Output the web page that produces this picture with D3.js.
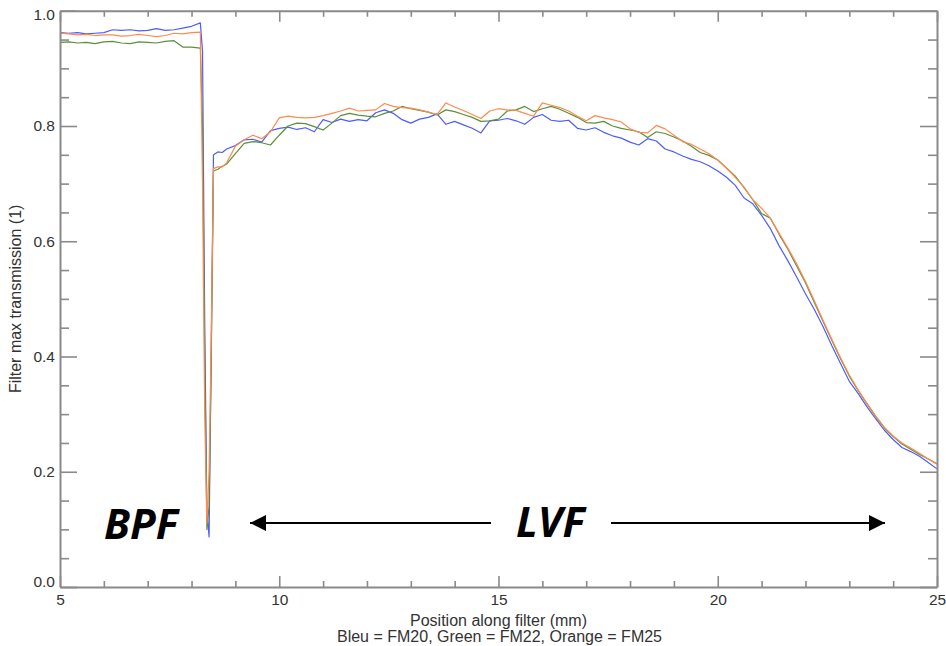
<!DOCTYPE html>
<html>
<head>
<meta charset="utf-8">
<script src="https://cdn.jsdelivr.net/npm/d3@7"></script>
<style>
  html, body { margin: 0; padding: 0; background: #fff; }
  svg { display: block; }
  .tick text { font-family: "Liberation Sans", Arial, sans-serif; }
</style>
</head>
<body>
<div id="chart"></div>
<script>
// positions along the filter (mm)
const positions = [
  5.0, 5.2, 5.4, 5.6, 5.8, 6.0, 6.2, 6.4, 6.6, 6.8, 7.0, 7.2, 7.4, 7.6, 7.8, 8.0, 8.2,
  8.25, 8.3, 8.35, 8.4, 8.45, 8.5, 8.6, 8.7, 8.8,
  9.0, 9.2, 9.4, 9.6, 9.8, 10.0, 10.2, 10.4, 10.6, 10.8,
  11.0, 11.2, 11.4, 11.6, 11.8, 12.0, 12.2, 12.4, 12.6, 12.8,
  13.0, 13.2, 13.4, 13.6, 13.8, 14.0, 14.2, 14.4, 14.6, 14.8,
  15.0, 15.2, 15.4, 15.6, 15.8, 16.0, 16.2, 16.4, 16.6, 16.8,
  17.0, 17.2, 17.4, 17.6, 17.8, 18.0, 18.2, 18.4, 18.6, 18.8,
  19.0, 19.2, 19.4, 19.6, 19.8, 20.0, 20.2, 20.4, 20.6, 20.8,
  21.0, 21.2, 21.4, 21.6, 21.8, 22.0, 22.2, 22.4, 22.6, 22.8,
  23.0, 23.2, 23.4, 23.6, 23.8, 24.0, 24.2, 24.4, 24.6, 24.8, 25.0
];

// Bleu = FM20
const fm20 = [
  0.962, 0.961, 0.962, 0.960, 0.961, 0.962, 0.967, 0.966, 0.967, 0.965, 0.966, 0.969, 0.966, 0.967, 0.970, 0.973, 0.979,
  0.930, 0.460, 0.130, 0.087, 0.420, 0.750, 0.755, 0.754, 0.760,
  0.766, 0.776, 0.777, 0.772, 0.792, 0.796, 0.798, 0.794, 0.797, 0.790,
  0.811, 0.806, 0.812, 0.808, 0.811, 0.809, 0.823, 0.828, 0.822, 0.811,
  0.805, 0.812, 0.815, 0.821, 0.803, 0.808, 0.802, 0.796, 0.788, 0.809,
  0.810, 0.813, 0.809, 0.803, 0.815, 0.820, 0.810, 0.808, 0.810, 0.796,
  0.793, 0.797, 0.789, 0.783, 0.779, 0.772, 0.767, 0.778, 0.774, 0.760,
  0.755, 0.748, 0.742, 0.738, 0.731, 0.722, 0.711, 0.697, 0.675, 0.665,
  0.645, 0.622, 0.592, 0.566, 0.538, 0.509, 0.482, 0.452, 0.419, 0.388,
  0.357, 0.336, 0.313, 0.292, 0.272, 0.256, 0.242, 0.235, 0.227, 0.216, 0.205
];

// Green = FM22
const fm22 = [
  0.945, 0.946, 0.944, 0.945, 0.943, 0.946, 0.947, 0.944, 0.943, 0.946, 0.945, 0.944, 0.947, 0.948, 0.937, 0.937, 0.935,
  0.800, 0.400, 0.100, 0.140, 0.400, 0.722, 0.725, 0.730, 0.734,
  0.752, 0.770, 0.773, 0.771, 0.767, 0.784, 0.800, 0.805, 0.804, 0.799,
  0.793, 0.805, 0.818, 0.822, 0.819, 0.817, 0.816, 0.822, 0.826, 0.834,
  0.830, 0.827, 0.824, 0.819, 0.828, 0.825, 0.820, 0.815, 0.808, 0.809,
  0.812, 0.826, 0.828, 0.834, 0.825, 0.830, 0.834, 0.829, 0.822, 0.815,
  0.806, 0.805, 0.808, 0.800, 0.796, 0.793, 0.790, 0.780, 0.790, 0.787,
  0.781, 0.774, 0.765, 0.754, 0.749, 0.741, 0.727, 0.713, 0.693, 0.672,
  0.648, 0.640, 0.612, 0.586, 0.557, 0.528, 0.494, 0.461, 0.428, 0.396,
  0.366, 0.341, 0.318, 0.296, 0.276, 0.261, 0.248, 0.239, 0.230, 0.222, 0.214
];

// Orange = FM25
const fm25 = [
  0.961, 0.960, 0.958, 0.959, 0.957, 0.958, 0.958, 0.956, 0.957, 0.959, 0.957, 0.955, 0.957, 0.961, 0.960, 0.962, 0.963,
  0.700, 0.300, 0.111, 0.200, 0.440, 0.726, 0.729, 0.729, 0.736,
  0.765, 0.776, 0.784, 0.778, 0.790, 0.814, 0.817, 0.815, 0.814, 0.815,
  0.818, 0.822, 0.826, 0.831, 0.826, 0.827, 0.828, 0.839, 0.834, 0.832,
  0.831, 0.828, 0.824, 0.820, 0.840, 0.833, 0.827, 0.820, 0.813, 0.826,
  0.830, 0.828, 0.827, 0.822, 0.817, 0.840, 0.836, 0.832, 0.826, 0.817,
  0.809, 0.818, 0.814, 0.811, 0.807, 0.795, 0.789, 0.788, 0.801, 0.795,
  0.784, 0.773, 0.768, 0.760, 0.752, 0.741, 0.727, 0.711, 0.694, 0.672,
  0.657, 0.640, 0.614, 0.588, 0.561, 0.530, 0.497, 0.463, 0.430, 0.398,
  0.368, 0.342, 0.319, 0.297, 0.277, 0.262, 0.250, 0.241, 0.232, 0.222, 0.213
];

const xMajor = [5, 10, 15, 20, 25];
const xMinor = [6, 7, 8, 9, 11, 12, 13, 14, 16, 17, 18, 19, 21, 22, 23, 24];
const yMajor = [0.0, 0.2, 0.4, 0.6, 0.8, 1.0];
const yMinor = [0.05, 0.1, 0.15, 0.25, 0.3, 0.35, 0.45, 0.5, 0.55, 0.65, 0.7, 0.75, 0.85, 0.9, 0.95];

const seriesList = [
  { name: "FM20", values: fm20, color: "#4d5cff" },
  { name: "FM22", values: fm22, color: "#5b8f3a" },
  { name: "FM25", values: fm25, color: "#ff8a4c" }
];

// =====================
// SVG SETUP
// =====================
const W = 946, H = 646;
const svg = d3.select("#chart").append("svg")
  .attr("width", W)
  .attr("height", H);

const x = d3.scaleLinear().domain([5, 25]).range([60, 937]);
const y = d3.scaleLinear().domain([0, 1]).range([587, 10.75]);

const axisColor = "#8a8a8a";
const textColor = "#333";
const labelFont = "Liberation Sans, Arial, sans-serif";

// =====================
// LINES
// =====================
const line = d3.line()
  .x((d, i) => x(positions[i]))
  .y(d => y(d));

svg.append("g")
  .selectAll("path")
  .data(seriesList)
  .join("path")
  .attr("d", d => line(d.values))
  .attr("fill", "none")
  .attr("stroke", d => d.color)
  .attr("stroke-width", 1.2)
  .attr("stroke-linejoin", "round");

// =====================
// AXES
// =====================
function styleAxis(g) {
  g.select(".domain").attr("stroke", axisColor).attr("stroke-width", 2);
  g.selectAll(".tick line").attr("stroke", axisColor).attr("stroke-width", 1.6);
  g.selectAll(".tick text")
    .attr("fill", textColor)
    .style("font-size", "15.5px");
}

// bottom
svg.append("g")
  .attr("transform", `translate(0,${y(0)})`)
  .call(d3.axisBottom(x).tickValues(xMajor).tickFormat(d3.format("d"))
    .tickSizeInner(-11).tickSizeOuter(0).tickPadding(7))
  .call(styleAxis);
svg.append("g")
  .attr("transform", `translate(0,${y(0)})`)
  .call(d3.axisBottom(x).tickValues(xMinor).tickFormat("").tickSizeInner(-6).tickSizeOuter(0))
  .call(styleAxis)
  .call(g => g.select(".domain").remove());

// top
svg.append("g")
  .attr("transform", `translate(0,${y(1)})`)
  .call(d3.axisTop(x).tickValues(xMajor).tickFormat("").tickSizeInner(-11).tickSizeOuter(0))
  .call(styleAxis);
svg.append("g")
  .attr("transform", `translate(0,${y(1)})`)
  .call(d3.axisTop(x).tickValues(xMinor).tickFormat("").tickSizeInner(-6).tickSizeOuter(0))
  .call(styleAxis)
  .call(g => g.select(".domain").remove());

// left
svg.append("g")
  .attr("transform", `translate(${x(5)},0)`)
  .call(d3.axisLeft(y).tickValues(yMajor).tickFormat(d3.format(".1f"))
    .tickSizeInner(-17).tickSizeOuter(0).tickPadding(5))
  .call(styleAxis)
  .call(g => g.selectAll(".tick text")
    .attr("dy", d => d === 0 ? "-0.05em" : d === 1 ? "0.55em" : "0.32em"));
svg.append("g")
  .attr("transform", `translate(${x(5)},0)`)
  .call(d3.axisLeft(y).tickValues(yMinor).tickFormat("").tickSizeInner(-9).tickSizeOuter(0))
  .call(styleAxis)
  .call(g => g.select(".domain").remove());

// right
svg.append("g")
  .attr("transform", `translate(${x(25)},0)`)
  .call(d3.axisRight(y).tickValues(yMajor).tickFormat("").tickSizeInner(-17).tickSizeOuter(0))
  .call(styleAxis);
svg.append("g")
  .attr("transform", `translate(${x(25)},0)`)
  .call(d3.axisRight(y).tickValues(yMinor).tickFormat("").tickSizeInner(-9).tickSizeOuter(0))
  .call(styleAxis)
  .call(g => g.select(".domain").remove());

// =====================
// AXIS TITLES
// =====================
svg.append("text")
  .attr("x", x(15))
  .attr("y", 626)
  .attr("text-anchor", "middle")
  .attr("fill", textColor)
  .style("font-family", labelFont)
  .style("font-size", "16px")
  .text("Position along filter (mm)");

svg.append("text")
  .attr("x", x(15) + 1)
  .attr("y", 642)
  .attr("text-anchor", "middle")
  .attr("fill", textColor)
  .style("font-family", labelFont)
  .style("font-size", "16px")
  .text("Bleu = FM20, Green = FM22, Orange = FM25");

svg.append("text")
  .attr("transform", `translate(21,${y(0.5)}) rotate(-90)`)
  .attr("text-anchor", "middle")
  .attr("fill", textColor)
  .style("font-family", labelFont)
  .style("font-size", "16px")
  .text("Filter max transmission (1)");

// =====================
// ANNOTATIONS
// =====================
const annoFont = "'Open Sans', Lato, sans-serif";

svg.append("text")
  .attr("x", 104)
  .attr("y", 539)
  .attr("fill", "#000")
  .style("font-family", annoFont)
  .style("font-weight", "bold")
  .style("font-style", "italic")
  .style("font-size", "42px")
  .text("BPF");

svg.append("text")
  .attr("x", 516)
  .attr("y", 537)
  .attr("fill", "#000")
  .style("font-family", annoFont)
  .style("font-weight", "bold")
  .style("font-style", "italic")
  .style("font-size", "42px")
  .text("LVF");

const defs = svg.append("defs");
defs.append("marker")
  .attr("id", "head")
  .attr("viewBox", "0 0 16 16")
  .attr("refX", 16)
  .attr("refY", 8)
  .attr("markerUnits", "userSpaceOnUse")
  .attr("markerWidth", 16)
  .attr("markerHeight", 16)
  .attr("orient", "auto")
  .append("path")
  .attr("d", "M0,0 L16,8 L0,16 Z")
  .attr("fill", "#000");

const arrowY = y(0.111);
svg.append("line")
  .attr("x1", 491).attr("y1", arrowY)
  .attr("x2", 250).attr("y2", arrowY)
  .attr("stroke", "#000")
  .attr("stroke-width", 2)
  .attr("marker-end", "url(#head)");

svg.append("line")
  .attr("x1", 611).attr("y1", arrowY)
  .attr("x2", 885).attr("y2", arrowY)
  .attr("stroke", "#000")
  .attr("stroke-width", 2)
  .attr("marker-end", "url(#head)");
</script>
</body>
</html>
